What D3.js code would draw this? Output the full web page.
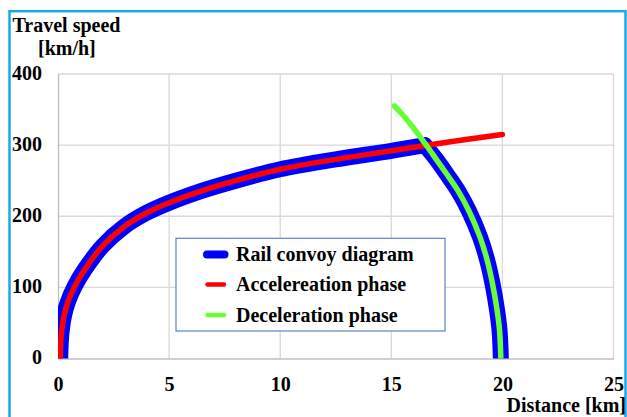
<!DOCTYPE html>
<html>
<head>
<meta charset="utf-8">
<script src="https://cdn.jsdelivr.net/npm/d3@7/dist/d3.min.js"></script>
<style>
  html, body { margin: 0; padding: 0; background: #fff; }
  svg { display: block; }
  text { font-family: "Liberation Serif", "Times New Roman", serif; font-weight: bold; fill: #000; }
</style>
</head>
<body>
<svg id="chart" width="627" height="417"></svg>
<script>
// ---- data ----
const xTicks = [0, 5, 10, 15, 20, 25];
const yTicks = [0, 100, 200, 300, 400];

// Acceleration phase (distance km, speed km/h)
const accelX = [0.1, 0.12, 0.17, 0.27, 0.45, 0.76, 1.2, 2.0, 3.0, 4.0, 5.0, 6.5, 8, 10, 12.5, 15, 17.5, 20];
const accelV = [0, 20, 40, 60, 80, 102, 125, 158, 186, 205, 219, 236, 250, 266, 280, 292, 304, 315];

// Deceleration phase
const decelX = [15.14, 15.5, 16.0, 16.5, 17.0, 17.5, 18.0, 18.5, 19.0, 19.3, 19.55, 19.75, 19.87, 19.93];
const decelV = [355, 343, 324, 303, 281, 259, 236, 207, 170, 140, 106, 70, 40, 0];

// Rail convoy diagram: acceleration up to the crossing point, then deceleration
const convoyAccelX = [0.1, 0.12, 0.17, 0.27, 0.45, 0.76, 1.2, 2.0, 3.0, 4.0, 5.0, 6.5, 8, 10, 12.5, 15, 16.5];
const convoyAccelV = [0, 20, 40, 60, 80, 102, 125, 158, 186, 205, 219, 236, 250, 266, 280, 292, 300];
const convoyDecelX = [16.5, 17.0, 17.5, 18.0, 18.5, 19.0, 19.3, 19.55, 19.75, 19.87, 19.93];
const convoyDecelV = [300, 281, 259, 236, 207, 170, 140, 106, 70, 40, 0];

const legendLabels = ["Rail convoy diagram", "Accelereation phase", "Deceleration phase"];
const colors = { convoy: "#0000ff", accel: "#ff0000", decel: "#66ff33" };

// ---- layout ----
const svg = d3.select("#chart");
const L = 58, R = 613.5, T = 74, B = 358.5;
const x = d3.scaleLinear().domain([0, 25]).range([L, R]);
const y = d3.scaleLinear().domain([0, 400]).range([B, T]);
const FS = "20px";

// outer border
svg.append("rect").attr("x", 9.5).attr("y", 11.2).attr("width", 616).attr("height", 430)
  .attr("fill", "none").attr("stroke", "#19a9e6").attr("stroke-width", 2.5);

// clip
svg.append("defs").append("clipPath").attr("id", "plotclip")
  .append("rect").attr("x", L).attr("y", T - 20).attr("width", R - L).attr("height", B - T + 20);

// gridlines
const grid = svg.append("g");
grid.selectAll("line.v").data(xTicks.slice(1)).join("line")
  .attr("x1", d => x(d)).attr("x2", d => x(d)).attr("y1", T).attr("y2", B)
  .attr("stroke", "#d9d9d9").attr("stroke-width", 1.3);
grid.selectAll("line.h").data(yTicks.slice(1)).join("line")
  .attr("x1", L).attr("x2", R).attr("y1", d => y(d)).attr("y2", d => y(d))
  .attr("stroke", "#d9d9d9").attr("stroke-width", 1.3);

// axes
const xAxis = svg.append("g").attr("transform", `translate(0,${B})`)
  .call(d3.axisBottom(x).tickValues(xTicks).tickSize(0).tickPadding(18));
xAxis.select(".domain").attr("stroke", "#bfbfbf").attr("stroke-width", 1.3);
xAxis.selectAll("text").style("font-size", FS).style("font-family", "Liberation Serif").style("font-weight", "bold");

const yAxis = svg.append("g").attr("transform", `translate(${L},0)`)
  .call(d3.axisLeft(y).tickValues(yTicks).tickSize(0).tickPadding(16));
yAxis.select(".domain").attr("stroke", "#bfbfbf").attr("stroke-width", 1.3);
yAxis.selectAll("text").style("font-size", FS).style("font-family", "Liberation Serif").style("font-weight", "bold")
  .attr("dy", "0.27em");

// lines
const line = d3.line().x(d => x(d[0])).y(d => y(d[1])).curve(d3.curveCatmullRom.alpha(0.5));
const zip = (a, b) => a.map((v, i) => [v, b[i]]);
const plot = svg.append("g").attr("clip-path", "url(#plotclip)");

[zip(convoyAccelX, convoyAccelV), zip(convoyDecelX, convoyDecelV)].forEach(pts => {
  plot.append("path").attr("d", line(pts))
    .attr("fill", "none").attr("stroke", colors.convoy).attr("stroke-width", 16)
    .attr("stroke-linecap", "round").attr("stroke-linejoin", "round");
});

plot.append("path").attr("d", line(zip(accelX, accelV)))
  .attr("fill", "none").attr("stroke", colors.accel).attr("stroke-width", 5.5)
  .attr("stroke-linecap", "round").attr("stroke-linejoin", "round");
plot.append("path").attr("d", line(zip(decelX, decelV)))
  .attr("fill", "none").attr("stroke", colors.decel).attr("stroke-width", 5.5)
  .attr("stroke-linecap", "round").attr("stroke-linejoin", "round");

// axis titles
svg.append("text").attr("x", 12.5).attr("y", 32).style("font-size", FS).text("Travel speed");
svg.append("text").attr("x", 38).attr("y", 54.5).style("font-size", FS).text("[km/h]");
svg.append("text").attr("x", 626).attr("y", 412).attr("text-anchor", "end").style("font-size", FS).text("Distance [km]");

// legend
const lg = svg.append("g");
lg.append("rect").attr("x", 176).attr("y", 238.3).attr("width", 269).attr("height", 92.7)
  .attr("fill", "#fff").attr("stroke", "#5b82c8").attr("stroke-width", 1.2);
const items = [
  { label: legendLabels[0], color: colors.convoy, w: 8, yc: 254.5 },
  { label: legendLabels[1], color: colors.accel, w: 4.5, yc: 284.5 },
  { label: legendLabels[2], color: colors.decel, w: 4.5, yc: 315 }
];
items.forEach((it, i) => {
  const x1 = i === 0 ? 207 : 207.5, x2 = i === 0 ? 224.5 : 224;
  lg.append("line").attr("x1", x1).attr("x2", x2).attr("y1", it.yc).attr("y2", it.yc)
    .attr("stroke", it.color).attr("stroke-width", it.w).attr("stroke-linecap", "round");
  lg.append("text").attr("x", 236).attr("y", it.yc + 6.5).style("font-size", FS).text(it.label);
});
</script>
</body>
</html>
